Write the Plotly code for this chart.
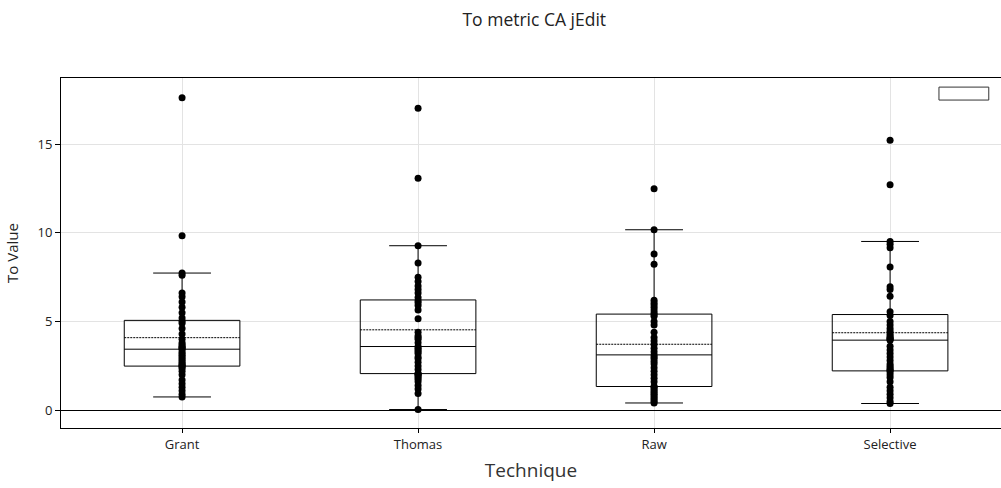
import plotly.graph_objects as go

techniques = ["Grant", "Thomas", "Raw", "Selective"]

grant = [0.75, 0.9, 1.1, 1.3, 1.5, 1.7, 2.0, 2.2, 2.35, 2.45,
         2.50, 2.55, 2.6, 2.7, 2.8, 2.9, 3.0, 3.1, 3.2, 3.3,
         3.44, 3.5, 3.55, 3.6, 3.7, 3.8, 4.0, 4.3, 4.6, 4.9,
         5.02, 5.2, 5.5, 5.8, 6.1, 6.4, 6.6, 7.6, 7.73, 9.83, 17.61]

thomas = [0.04, 0.94, 1.2, 1.4, 1.6, 1.75, 1.85, 1.95, 2.0, 2.05,
          2.07, 2.3, 2.5, 2.7, 2.9, 3.0, 3.2, 3.3, 3.4, 3.5,
          3.59, 3.8, 4.0, 4.1, 4.2, 4.4, 5.16, 5.65, 5.9, 6.05,
          6.17, 6.35, 6.6, 6.8, 7.0, 7.25, 7.5, 8.29, 9.27, 13.07, 17.01]

raw = [0.41, 0.5, 0.6, 0.7, 0.8, 0.9, 1.0, 1.1, 1.2, 1.3,
       1.35, 1.6, 1.8, 2.0, 2.2, 2.4, 2.6, 2.75, 2.9, 3.0,
       3.12, 3.3, 3.5, 3.7, 3.9, 4.1, 4.4, 4.8, 5.0, 5.3,
       5.39, 5.5, 5.65, 5.8, 5.95, 6.05, 6.2, 8.22, 8.8, 10.17, 12.48]

selective = [0.38, 0.5, 0.7, 0.9, 1.1, 1.3, 1.6, 1.85, 2.0, 2.15,
             2.24, 2.3, 2.4, 2.5, 2.6, 2.8, 3.0, 3.2, 3.4, 3.6,
             3.95, 4.0, 4.05, 4.1, 4.2, 4.3, 4.45, 4.6, 4.8, 5.0,
             5.34, 5.55, 6.43, 6.81, 6.96, 8.07, 9.15, 9.35, 9.51, 12.71, 15.21]

series = [grant, thomas, raw, selective]

xs, ys = [], []
for name, vals in zip(techniques, series):
    xs += [name] * len(vals)
    ys += vals

fig = go.Figure()
fig.add_trace(go.Box(
    x=xs, y=ys,
    boxpoints="all", jitter=0, pointpos=0,
    boxmean=True,
    width=0.49, whiskerwidth=0.5,
    line=dict(color="black", width=1),
    fillcolor="rgba(255,255,255,0)",
    marker=dict(color="black", size=7),
    showlegend=False,
))

fig.update_layout(
    width=1001, height=488,
    margin=dict(l=61, r=0, t=78, b=60),
    paper_bgcolor="white", plot_bgcolor="white",
    font=dict(family="Open Sans, verdana, arial, sans-serif", size=12, color="#222"),
    title=dict(text="To metric CA jEdit", xref="paper", x=0.5035, xanchor="center",
               yref="container", y=0.959, yanchor="middle",
               font=dict(size=17.5, color="#222")),
    xaxis=dict(
        title=dict(text="Technique", font=dict(size=19, color="#333"), standoff=12),
        categoryorder="array", categoryarray=techniques,
        range=[-0.513, 3.47],
        tickfont=dict(size=13),
        showgrid=True, gridcolor="#e3e3e3",
        showline=True, linecolor="black", linewidth=1, mirror=True,
        ticks="outside", ticklen=4, tickcolor="black",
    ),
    yaxis=dict(
        title=dict(text="To Value", font=dict(size=15, color="#222")),
        range=[-1.0, 18.72],
        tickvals=[0, 5, 10, 15],
        tickfont=dict(size=13),
        showgrid=True, gridcolor="#e3e3e3",
        zeroline=True, zerolinecolor="black", zerolinewidth=1,
        showline=True, linecolor="black", linewidth=1, mirror=False,
        ticks="outside", ticklen=5, tickcolor="black",
    ),
    shapes=[dict(
        type="rect", xref="paper", yref="paper",
        x0=0.934, x1=0.987, y0=0.937, y1=0.974,
        line=dict(color="#333", width=1), fillcolor="white",
    )],
)

fig.write_html("out.html")
